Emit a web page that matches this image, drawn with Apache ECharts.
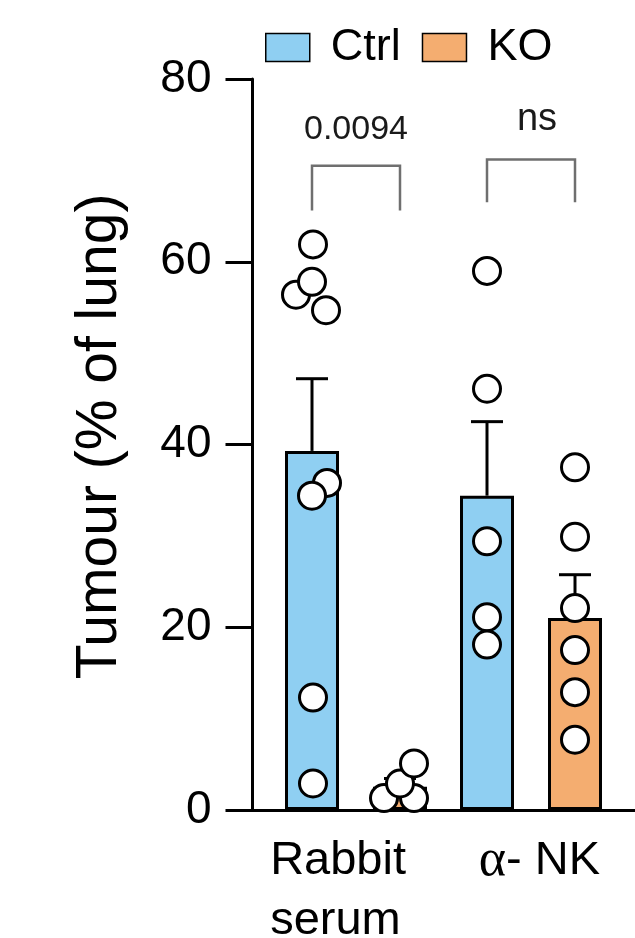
<!DOCTYPE html>
<html>
<head>
<meta charset="utf-8">
<script src="https://cdn.jsdelivr.net/npm/echarts@6/dist/echarts.min.js"></script>
<style>
html,body{margin:0;padding:0;background:#fff;}
#chart{width:635px;height:938px;}
</style>
</head>
<body>
<div id="chart"></div>
<script>
// ---- data ----
const categories = ['Rabbit\nserum', 'α- NK'];
const seriesNames = ['Ctrl', 'KO'];
const ctrlMeans = [39.3, 34.4];
const koMeans = [2.55, 21.0];
const ctrlSem = [7.9, 8.1];
const koSem = [0.9, 4.75];
const ctrlPoints = [[61.9, 56.4, 57.8, 54.7, 35.8, 34.4, 12.3, 2.9], [59.0, 46.1, 29.4, 21.1, 18.1]];
const koPoints = [[1.3, 1.3, 2.9, 5.1], [37.5, 29.9, 22.1, 17.5, 12.9, 7.7]];
const pValues = ['0.0094', 'ns'];
const bracketTop = [70.5, 71.2];
const bracketLeg = [65.6, 66.5];
const pLabelLevel = [74.5, 75.6];
const yTicks = [0, 20, 40, 60, 80];

// ---- layout / style (not data) ----
const ctrlJitter = [[1, -16, 0, 14, 15, 0, 1, 1], [0, 0, 0, 0, 0]];
const koJitter = [[-16, 14, 0, 14], [0, 0, 0, 0, 0, 0]];
const pLabelDx = [0, 6];
const BAR_W = 54, BAR_GAP_PX = 34, OFF = (BAR_W + BAR_GAP_PX) / 2;
const FONT = "'Liberation Sans', Arial, Helvetica, sans-serif";
const CTRL_COLOR = '#8fcff2', KO_COLOR = '#f4ad70';

const chart = echarts.init(document.getElementById('chart'), null, {renderer: 'canvas'});

const scatterData = [];
categories.forEach((c, i) => {
  ctrlPoints[i].forEach((v, j) => scatterData.push({value: [i, v], symbolOffset: [-OFF + ctrlJitter[i][j], 0]}));
  koPoints[i].forEach((v, j) => scatterData.push({value: [i, v], symbolOffset: [OFF + koJitter[i][j], 0]}));
});
const errData = [];
categories.forEach((c, i) => {
  errData.push([i, ctrlMeans[i], ctrlMeans[i] + ctrlSem[i], -1]);
  errData.push([i, koMeans[i], koMeans[i] + koSem[i], 1]);
});
const bracketData = categories.map((c, i) => [i, bracketTop[i], bracketLeg[i], pLabelLevel[i]]);

const option = {
  animation: false,
  backgroundColor: '#fff',
  legend: {
    data: seriesNames,
    left: 265, top: 25, padding: 0,
    icon: 'rect', itemWidth: 44, itemHeight: 28, itemGap: 21,
    itemStyle: {borderWidth: 1.5, borderColor: '#000'},
    textStyle: {fontSize: 45, color: '#000', fontFamily: FONT, padding: [0, 0, 0, 16]}
  },
  grid: [
    {left: 252.5, right: 0, top: 79, bottom: 128, containLabel: false, outerBoundsMode: 'none'},
    {left: 268.5, right: 16.5, top: 79, bottom: 128, containLabel: false, outerBoundsMode: 'none'}
  ],
  xAxis: [
    {
      type: 'category', gridIndex: 0, data: categories,
      axisLine: {lineStyle: {color: '#000', width: 3}},
      axisTick: {show: false},
      axisLabel: {
        interval: 0, hideOverlap: false,
        margin: 21, color: '#000', fontFamily: FONT, fontSize: 47, lineHeight: 60,
        formatter: function (v) {
          if (v.indexOf('α') === 0) return '{g|α}{n|' + v.slice(1) + '}';
          return v.split('\n').map(s => '{l|' + s + '}').join('\n');
        },
        rich: {
          l: {width: 156, align: 'left', fontSize: 47, lineHeight: 60, fontFamily: FONT, color: '#000'},
          g: {fontSize: 52, lineHeight: 60, fontFamily: "'Liberation Serif', 'DejaVu Serif', serif", color: '#000'},
          n: {fontSize: 47, lineHeight: 60, fontFamily: FONT, color: '#000'}
        }
      },
      splitLine: {show: false}
    },
    {
      type: 'category', gridIndex: 1, data: categories,
      axisLine: {show: false}, axisTick: {show: false}, axisLabel: {show: false}, splitLine: {show: false}
    }
  ],
  yAxis: [
    {
      type: 'value', gridIndex: 0, min: 0, max: 80, interval: 20,
      name: 'Tumour (% of lung)', nameLocation: 'middle', nameGap: 124,
      nameTextStyle: {fontSize: 57, color: '#000', fontFamily: FONT, padding: [0, 0, 0, 16]},
      axisLine: {show: true, lineStyle: {color: '#000', width: 3}},
      axisTick: {show: true, length: 27, lineStyle: {color: '#000', width: 3}},
      axisLabel: {margin: 41, fontSize: 46, color: '#000', fontFamily: FONT,
        formatter: v => (yTicks.indexOf(v) >= 0 ? String(v) : '')},
      splitLine: {show: false}
    },
    {
      type: 'value', gridIndex: 1, min: 0, max: 80, interval: 20,
      axisLine: {show: false}, axisTick: {show: false}, axisLabel: {show: false}, splitLine: {show: false}
    }
  ],
  series: [
    {
      name: 'Ctrl', type: 'bar', xAxisIndex: 1, yAxisIndex: 1, data: ctrlMeans,
      barWidth: BAR_W, barGap: (BAR_GAP_PX / BAR_W * 100) + '%', z: 2,
      itemStyle: {color: CTRL_COLOR, borderColor: '#000', borderWidth: 3}
    },
    {
      name: 'KO', type: 'bar', xAxisIndex: 1, yAxisIndex: 1, data: koMeans,
      barWidth: BAR_W, barGap: (BAR_GAP_PX / BAR_W * 100) + '%', z: 2,
      itemStyle: {color: KO_COLOR, borderColor: '#000', borderWidth: 3}
    },
    {
      type: 'custom', xAxisIndex: 1, yAxisIndex: 1, z: 3, data: errData,
      encode: {x: 0, y: [1, 2]},
      renderItem: function (params, api) {
        const base = api.coord([api.value(0), api.value(1)]);
        const top = api.coord([api.value(0), api.value(2)]);
        const x = base[0] + api.value(3) * OFF;
        const style = {stroke: '#000', lineWidth: 3};
        return {type: 'group', children: [
          {type: 'line', shape: {x1: x, y1: base[1], x2: x, y2: top[1]}, style: style},
          {type: 'line', shape: {x1: x - 16, y1: top[1], x2: x + 16, y2: top[1]}, style: style}
        ]};
      }
    },
    {
      type: 'scatter', xAxisIndex: 1, yAxisIndex: 1, z: 4, data: scatterData,
      symbol: 'circle', symbolSize: 27,
      itemStyle: {color: '#fff', borderColor: '#000', borderWidth: 3, opacity: 1}
    },
    {
      type: 'custom', xAxisIndex: 1, yAxisIndex: 1, z: 5, data: bracketData,
      encode: {x: 0, y: [1, 2]},
      renderItem: function (params, api) {
        const i = params.dataIndex;
        const t = api.coord([api.value(0), api.value(1)]);
        const l = api.coord([api.value(0), api.value(2)]);
        const lab = api.coord([api.value(0), api.value(3)]);
        const x0 = t[0] - OFF, x1 = t[0] + OFF;
        return {type: 'group', children: [
          {type: 'polyline', shape: {points: [[x0, l[1]], [x0, t[1]], [x1, t[1]], [x1, l[1]]]},
            style: {stroke: '#6f6f6f', lineWidth: 2.5, fill: null}},
          {type: 'text', x: t[0] + pLabelDx[i], y: lab[1],
            style: {text: pValues[i], fill: '#1a1a1a', fontFamily: FONT,
              fontSize: pValues[i] === 'ns' ? 38 : 34, align: 'center', verticalAlign: 'middle'}}
        ]};
      }
    }
  ]
};
chart.setOption(option);
</script>
</body>
</html>
